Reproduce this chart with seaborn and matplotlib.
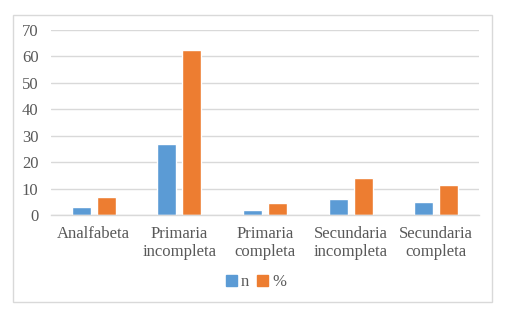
import pandas as pd
import numpy as np
import matplotlib
matplotlib.use('Agg')
import matplotlib.pyplot as plt
import matplotlib.patches as mpatches
import seaborn as sns

# 数据
categorias = ['Analfabeta', 'Primaria\nincompleta', 'Primaria\ncompleta',
              'Secundaria\nincompleta', 'Secundaria\ncompleta']
n_vals = [3, 27, 2, 6, 5]
pct_vals = [6.9, 62.5, 4.6, 14.0, 11.5]
series = ['n', '%']
colores = ['#5B9BD5', '#ED7D31']

df = pd.DataFrame({
    'cat': categorias * 2,
    'valor': n_vals + pct_vals,
    'serie': [series[0]] * len(n_vals) + [series[1]] * len(pct_vals),
})

sns.set_theme(style='white')
plt.rcParams['font.family'] = ['Liberation Serif', 'DejaVu Serif']
gris = '#595959'

fig = plt.figure(figsize=(5.22, 3.33), dpi=100)
ax = fig.add_axes([51 / 522, 1 - 215 / 333, 428 / 522, 185 / 333])

sns.barplot(data=df, x='cat', y='valor', hue='serie', palette=colores,
            width=0.584, gap=0.24, ax=ax, legend=False, saturation=1)

ax.set_ylim(0, 70)
ax.set_yticks(range(0, 71, 10))
ax.set_xlim(-0.5, len(categorias) - 0.5)
ax.set_xlabel('')
ax.set_ylabel('')
ax.grid(axis='y', color='#d9d9d9', linewidth=1)
ax.set_axisbelow(True)
for s in ['top', 'right', 'left']:
    ax.spines[s].set_visible(False)
ax.spines['bottom'].set_color('#d9d9d9')
ax.spines['bottom'].set_linewidth(1)
ax.tick_params(axis='both', length=0, labelsize=12, labelcolor=gris)
ax.tick_params(axis='x', pad=8)
ax.tick_params(axis='y', pad=9)
for lbl in ax.get_xticklabels():
    lbl.set_linespacing(1.15)

# 图例
handles = [mpatches.Patch(color=c, label=s) for s, c in zip(series, colores)]
leg = fig.legend(handles=handles, loc='center', ncol=2, frameon=False,
                 bbox_to_anchor=(256 / 522, 1 - 282 / 333),
                 handlelength=0.65, handleheight=0.65, handletextpad=0.25,
                 columnspacing=0.5, fontsize=12)
for t in leg.get_texts():
    t.set_color(gris)

# 外框
fig.patches.append(mpatches.Rectangle((13 / 522, 1 - 302 / 333), 479 / 522, 287 / 333,
                                      transform=fig.transFigure, fill=False,
                                      edgecolor='#d9d9d9', linewidth=1))

fig.savefig('out.png', dpi=100)
